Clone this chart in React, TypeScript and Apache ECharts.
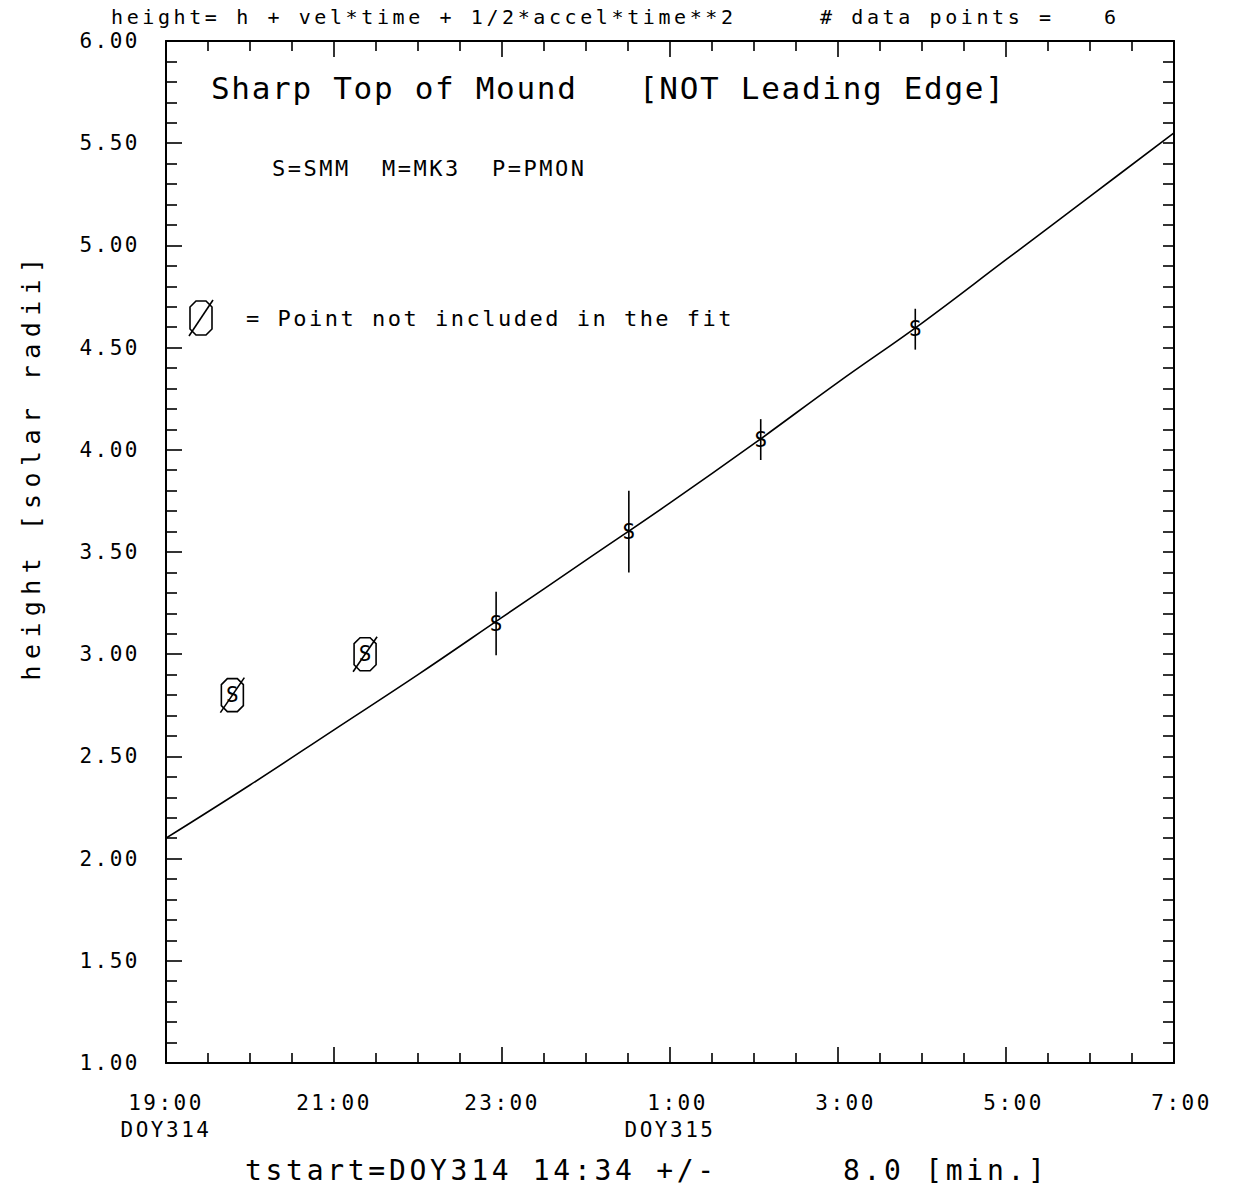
import React, { useEffect, useRef } from "react";
import * as echarts from "echarts";

// ---------- data ----------
const xTickHours = [0, 2, 4, 6, 8, 10, 12];
const xTickLabels = [
  "19:00\nDOY314",
  "21:00",
  "23:00",
  "\u00a01:00\nDOY315",
  "\u00a03:00",
  "\u00a05:00",
  "\u00a07:00",
];
const yTickValues = [1, 1.5, 2, 2.5, 3, 3.5, 4, 4.5, 5, 5.5, 6];
const yTickLabels = ["1.00", "1.50", "2.00", "2.50", "3.00", "3.50", "4.00", "4.50", "5.00", "5.50", "6.00"];

// hours since 19:00 DOY314
const pointHours = [0.79, 2.37, 3.93, 5.51, 7.08, 8.92];
const pointHeights = [2.8, 3.0, 3.15, 3.6, 4.05, 4.59];
const pointErrors = [0, 0, 0.155, 0.2, 0.1, 0.1];
const pointExcluded = [true, true, false, false, false, false];
const pointInstrument = ["S", "S", "S", "S", "S", "S"];

const fitHours = [0, 1, 2, 3, 4, 5, 6, 7, 8, 9, 10, 11, 12];
const fitHeights = [2.1, 2.36, 2.63, 2.9, 3.18, 3.46, 3.74, 4.03, 4.33, 4.62, 4.93, 5.24, 5.55];

const headerText = "height= h + vel*time + 1/2*accel*time**2";
const pointsCountLabel = "# data points =";
const pointsCount = "6";
const titleLeft = "Sharp Top of Mound";
const titleRight = "[NOT Leading Edge]";
const instrumentKeys = ["S=SMM", "M=MK3", "P=PMON"];
const excludedNote = "= Point not included in the fit";
const yAxisTitle = "height [solar radii]";
const tstartText = "tstart=DOY314 14:34 +/-";
const tstartErr = "8.0 [min.]";

// ---------- style ----------
const MONO = '"DejaVu Sans Mono", monospace';
const LETTER_SPACING: Record<number, number> = { 20: 3.6, 21: 2.5, 22: 2.5, 31: 1.7, 25: 6.4, 28: 3.7 };

function txt(text: string, x: number, y: number, size: number, extra: any = {}) {
  return {
    type: "text",
    x,
    y,
    silent: true,
    ...extra,
    style: {
      text,
      fill: "#000",
      font: `${size}px ${MONO}`,
      fontSize: size,
      fontFamily: MONO,
      align: extra.align || "left",
      verticalAlign: "middle",
      textAlign: extra.align || "left",
      textVerticalAlign: "middle",
    },
  };
}

function octagon(cx: number, cy: number, w: number, hh: number, c: number) {
  return [
    [cx - w + c, cy - hh],
    [cx + w - c, cy - hh],
    [cx + w, cy - hh + c],
    [cx + w, cy + hh - c],
    [cx + w - c, cy + hh],
    [cx - w + c, cy + hh],
    [cx - w, cy + hh - c],
    [cx - w, cy - hh + c],
  ];
}

function excludedSymbol(cx: number, cy: number, w: number, hh: number) {
  return [
    {
      type: "polygon",
      shape: { points: octagon(cx, cy, w, hh, 6) },
      style: { fill: "none", stroke: "#000", lineWidth: 1.6 },
      silent: true,
    },
    {
      type: "line",
      shape: { x1: cx - w - 1, y1: cy + hh + 1, x2: cx + w + 1, y2: cy - hh - 1 },
      style: { stroke: "#000", lineWidth: 1.6 },
      silent: true,
    },
  ];
}

export default function App() {
  const ref = useRef<HTMLDivElement>(null);

  useEffect(() => {
    if (!ref.current) return;
    const el = ref.current;
    const chart = echarts.init(el, null, { renderer: "svg" });

    const axisLineStyle = { color: "#000", width: 2 };
    const tickStyle = { color: "#000", width: 1.6 };
    const labelStyle = { color: "#000", fontFamily: MONO, fontSize: 21 };

    const xCommon: any = {
      type: "value",
      min: 0,
      max: 12,
      interval: 2,
      splitLine: { show: false },
      axisLine: { show: true, onZero: false, lineStyle: axisLineStyle },
      axisTick: { show: true, inside: true, length: 16, lineStyle: tickStyle },
      minorTick: { show: true, splitNumber: 4, length: 10, lineStyle: tickStyle },
      minorSplitLine: { show: false },
    };
    const yCommon: any = {
      type: "value",
      min: 1,
      max: 6,
      interval: 0.5,
      splitLine: { show: false },
      axisLine: { show: true, onZero: false, lineStyle: axisLineStyle },
      minorTick: { show: true, splitNumber: 5, length: 11, lineStyle: tickStyle },
      minorSplitLine: { show: false },
    };

    const data = pointHours.map((t, i) => [
      t,
      pointHeights[i],
      pointErrors[i],
      pointExcluded[i] ? 1 : 0,
      i,
    ]);

    const option: any = {
      animation: false,
      backgroundColor: "#fff",
      grid: { left: 166, right: 59, top: 41, bottom: 130, containLabel: false },
      xAxis: [
        {
          ...xCommon,
          position: "bottom",
          axisLabel: {
            ...labelStyle,
            margin: 26,
            lineHeight: 27,
            showMinLabel: true,
            showMaxLabel: true,
            formatter: (v: number) => {
              const i = xTickHours.indexOf(v);
              return i >= 0 ? xTickLabels[i] : "";
            },
          },
        },
        {
          ...xCommon,
          position: "top",
          axisLabel: { show: false },
        },
      ],
      yAxis: [
        {
          ...yCommon,
          position: "left",
          axisTick: { show: true, inside: true, length: 16, lineStyle: tickStyle },
          axisLabel: {
            ...labelStyle,
            margin: 26,
            showMinLabel: true,
            showMaxLabel: true,
            formatter: (v: number) => {
              const i = yTickValues.findIndex((y) => Math.abs(y - v) < 1e-6);
              return i >= 0 ? yTickLabels[i] : "";
            },
          },
        },
        {
          ...yCommon,
          position: "right",
          axisTick: { show: true, inside: true, length: 11, lineStyle: tickStyle },
          axisLabel: { show: false },
        },
      ],
      series: [
        {
          type: "line",
          xAxisIndex: 0,
          yAxisIndex: 0,
          data: fitHours.map((t, i) => [t, fitHeights[i]]),
          showSymbol: false,
          symbol: "none",
          smooth: 0.4,
          lineStyle: { color: "#000", width: 1.6 },
          silent: true,
          z: 3,
        },
        {
          type: "custom",
          xAxisIndex: 0,
          yAxisIndex: 0,
          data,
          silent: true,
          z: 4,
          renderItem: (_params: any, api: any) => {
            const t = api.value(0);
            const h = api.value(1);
            const e = api.value(2);
            const ex = api.value(3);
            const idx = api.value(4);
            const c = api.coord([t, h]);
            const children: any[] = [];
            if (e > 0) {
              const a = api.coord([t, h + e]);
              const b = api.coord([t, h - e]);
              children.push({
                type: "line",
                shape: { x1: a[0], y1: a[1], x2: b[0], y2: b[1] },
                style: { stroke: "#000", lineWidth: 1.6 },
              });
            }
            children.push({
              type: "text",
              x: c[0],
              y: c[1],
              style: {
                text: pointInstrument[idx],
                fill: "#000",
                font: `21px ${MONO}`,
                align: "center",
                verticalAlign: "middle",
              },
            });
            if (ex) {
              children.push(...excludedSymbol(c[0], c[1], 11, 16.5));
            }
            return { type: "group", children };
          },
        },
      ],
      graphic: [
        txt(headerText, 111, 17, 20),
        txt(pointsCountLabel, 820, 17, 20),
        txt(pointsCount, 1104, 17, 20),
        txt(titleLeft, 211, 88, 31),
        txt(titleRight, 639, 88, 31),
        txt(instrumentKeys[0], 272, 168, 22),
        txt(instrumentKeys[1], 382, 168, 22),
        txt(instrumentKeys[2], 492, 168, 22),
        ...excludedSymbol(201, 318, 11, 17),
        txt(excludedNote, 246, 318, 22),
        txt(yAxisTitle, 31, 466, 25, { rotation: Math.PI / 2, align: "center" }),
        txt(tstartText, 245, 1170, 28),
        txt(tstartErr, 843, 1170, 28),
      ],
    };

    chart.setOption(option);

    const applySpacing = () => {
      el.querySelectorAll("text").forEach((t: any) => {
        const fs = Math.round(parseFloat(getComputedStyle(t).fontSize));
        const ls = LETTER_SPACING[fs];
        if (ls && !pointInstrument.includes(t.textContent)) {
          t.setAttribute("letter-spacing", String(ls));
          t.style.letterSpacing = ls + "px";
        }
      });
    };
    applySpacing();
    chart.on("finished", applySpacing);
    const timer = setTimeout(applySpacing, 50);
    const raf = requestAnimationFrame(applySpacing);

    return () => {
      clearTimeout(timer);
      cancelAnimationFrame(raf);
      chart.dispose();
    };
  }, []);

  return (
    <div
      ref={ref}
      style={{ position: "absolute", left: 0, top: 0, width: 1233, height: 1193, background: "#fff" }}
    />
  );
}
